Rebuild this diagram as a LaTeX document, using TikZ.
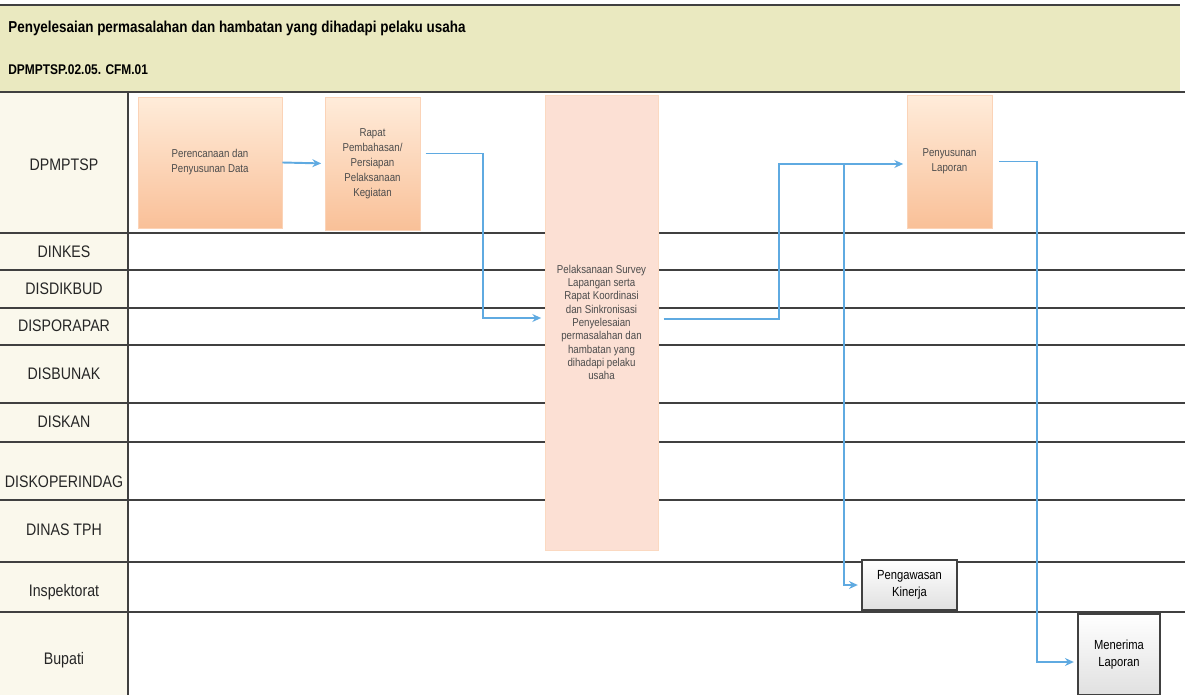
\documentclass[tikz,border=0pt]{standalone}
\usepackage{fontspec}
\setmainfont{Liberation Sans}
\newfontfamily\narrowfont[FakeStretch=0.85]{Liberation Sans}
\usetikzlibrary{arrows.meta,positioning}

\definecolor{headfill}{RGB}{234,233,192}
\definecolor{lanefill}{RGB}{250,248,236}
\definecolor{flowblue}{RGB}{95,170,225}
\definecolor{peachtop}{RGB}{255,236,218}
\definecolor{peachbot}{RGB}{249,192,152}
\definecolor{pinkfill}{RGB}{252,224,212}

\tikzset{
	lane/.style={font=\narrowfont\fontsize{9.5}{11}\selectfont, text=black!85},
	stepbox/.style={draw=peachbot!70, top color=peachtop, bottom color=peachbot, inner sep=0pt, align=center, font=\narrowfont\fontsize{6.5}{8.5}\selectfont, text=black!70},
	greybox/.style={draw=black!75, thick, top color=white, bottom color=black!12, inner sep=0pt, align=center, font=\narrowfont\fontsize{7.5}{10}\selectfont},
	flow/.style={draw=flowblue, line width=1.1pt, -{Stealth[length=5pt,width=4.5pt]}, shorten >=2pt}
}

\begin{document}
\begin{tikzpicture}[x=0.02cm, y=-0.02cm]
	\useasboundingbox (0,0) rectangle (1185,695);
	% HEADER
	\fill[headfill] (0,5) rectangle (1180,92);
	\fill[lanefill] (0,92) rectangle (128,695);
	\draw[black!75, line width=0.9pt] (0,5) -- (1180,5);
	\draw[black!75, line width=0.9pt] (0,92) -- (1185,92);
	\node (title) at (8,28) [anchor=west, inner sep=0pt, font=\narrowfont\bfseries\fontsize{9}{11}\selectfont] {Penyelesaian permasalahan dan hambatan yang dihadapi pelaku usaha};
	\node (code) at (8,70) [anchor=west, inner sep=0pt, font=\narrowfont\bfseries\fontsize{8}{10}\selectfont] {DPMPTSP.02.05. CFM.01};
	% LANES
	\foreach \y in {233,270,308,345,403,442,500,562,612}
		\draw[black!75, line width=0.8pt] (0,\y) -- (1185,\y);
	\draw[black!75, line width=0.8pt] (128,92) -- (128,695);
	\foreach \y/\name in {165/DPMPTSP, 252/DINKES, 289/DISDIKBUD, 326/DISPORAPAR, 374/DISBUNAK, 422/DISKAN, 482/DISKOPERINDAG, 530/DINAS TPH, 592/Inspektorat, 660/Bupati}
		\node (l-\name) at (64,\y) [lane] {\name};
	% STEPS
	\node (plan) at (210,162.5) [stepbox, minimum width=2.88cm, minimum height=2.62cm] {Perencanaan dan\\Penyusunan Data};
	\node (rapat) at (372.5,163.5) [stepbox, minimum width=1.9cm, minimum height=2.66cm] {Rapat\\Pembahasan/\\Persiapan\\Pelaksanaan\\Kegiatan};
	\node (survey) at (601.5,322.5) [stepbox, top color=pinkfill, bottom color=pinkfill, draw=peachbot!60, minimum width=2.26cm, minimum height=9.1cm, font=\narrowfont\fontsize{6.5}{7.6}\selectfont] {Pelaksanaan Survey\\Lapangan serta\\Rapat Koordinasi\\dan Sinkronisasi\\Penyelesaian\\permasalahan dan\\hambatan yang\\dihadapi pelaku\\usaha};
	\node (lapor) at (949.5,161.5) [stepbox, minimum width=1.7cm, minimum height=2.66cm] {Penyusunan\\Laporan};
	\node (awas) at (909.5,585) [greybox, minimum width=1.9cm, minimum height=1cm] {Pengawasan\\Kinerja};
	\node (terima) at (1119,654.5) [greybox, minimum width=1.64cm, minimum height=1.62cm] {Menerima\\Laporan};
	% CONNECTORS
	\draw[flow] (plan.east) -- (rapat.west);
	\draw[flow] ([xshift=3pt, yshift=0.2cm]rapat.east) -- ++(57,0) |- ([yshift=0.09cm]survey.west);
	\draw[flow] ([xshift=3pt, yshift=0.07cm]survey.east) -- ++(115,0) |- ([yshift=-0.05cm]lapor.west);
	\coordinate[left=1.26cm of lapor.west, yshift=-0.05cm] (fork);
	\draw[flow] (fork) |- (awas.west);
	\draw[flow] ([xshift=4pt]lapor.east) -- ++(38,0) |- ([yshift=-0.15cm]terima.west);
\end{tikzpicture}
\end{document}
